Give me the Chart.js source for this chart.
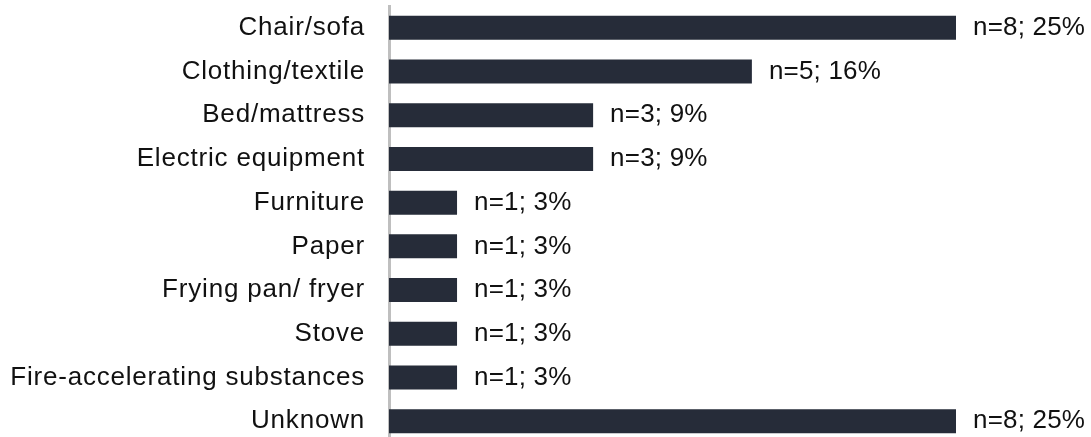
<!DOCTYPE html>
<html>
<head>
<meta charset="utf-8">
<script src="https://cdn.jsdelivr.net/npm/chart.js@4/dist/chart.umd.min.js"></script>
<style>
  html, body { margin: 0; padding: 0; background: #fff; overflow: hidden; }
  canvas { display: block; }
</style>
</head>
<body>
<canvas id="sources-chart" width="1091" height="443"></canvas>
<script>
const categories = ['Chair/sofa', 'Clothing/textile', 'Bed/mattress', 'Electric equipment', 'Furniture',
    'Paper', 'Frying pan/ fryer', 'Stove', 'Fire-accelerating substances', 'Unknown'];
const counts = [8, 5, 3, 3, 1, 1, 1, 1, 1, 8];
const percents = [25, 16, 9, 9, 3, 3, 3, 3, 3, 25];

const FONT = "'Liberation Sans', Arial, sans-serif";

// category labels are set a little wider than the default tracking
const tracking = {
    id: 'tracking',
    beforeDraw(chart) {
        chart.ctx.letterSpacing = '0.8px';
    }
};

// writes "n=..; ..%" just right of each bar end
const valueLabels = {
    id: 'valueLabels',
    afterDatasetsDraw(chart) {
        const ctx = chart.ctx;
        const meta = chart.getDatasetMeta(0);
        ctx.save();
        ctx.letterSpacing = '0.2px';
        ctx.font = '26px ' + FONT;
        ctx.fillStyle = '#111111';
        ctx.textAlign = 'left';
        ctx.textBaseline = 'middle';
        meta.data.forEach((bar, i) => {
            ctx.fillText('n=' + counts[i] + '; ' + percents[i] + '%', bar.x + 17, bar.y);
        });
        ctx.restore();
    }
};

const ctx = document.getElementById('sources-chart').getContext('2d');
new Chart(ctx, {
    type: 'bar',
    data: {
        labels: categories,
        datasets: [{
            data: percents,
            backgroundColor: '#262c39',
            borderWidth: 0,
            categoryPercentage: 1,
            barPercentage: 0.55
        }]
    },
    options: {
        indexAxis: 'y',
        responsive: false,
        animation: false,
        layout: { padding: { top: 6, right: 135, bottom: 0, left: 0 } },
        plugins: {
            legend: { display: false },
            tooltip: { enabled: false }
        },
        scales: {
            x: {
                display: false,
                min: 0,
                max: 25
            },
            y: {
                z: 1,
                grid: { display: false, drawTicks: false },
                border: { display: true, color: '#bfbfbf', width: 3 },
                ticks: {
                    padding: 24,
                    color: '#111111',
                    font: { family: FONT, size: 26 }
                },
                afterFit(scale) {
                    scale.width = 389;
                    scale.paddingTop = 0;
                    scale.paddingBottom = 0;
                }
            }
        }
    },
    plugins: [tracking, valueLabels]
});
</script>
</body>
</html>
